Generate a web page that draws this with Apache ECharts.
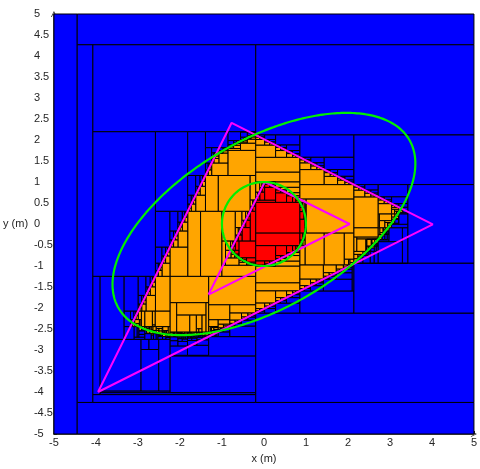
<!DOCTYPE html>
<html><head><meta charset="utf-8">
<script src="https://cdn.jsdelivr.net/npm/echarts@6/dist/echarts.min.js"></script>
<style>html,body{margin:0;padding:0;background:#fff}#c{width:480px;height:469px}</style>
</head><body><div id="c"></div>
<script>
// ---- data ----
const bigTriangle   = [[-3.95, -4.0], [-0.77, 2.41], [4.02, -0.01]];
const smallTriangle = [[-1.32, -1.68], [0.02, 1.0], [2.04, 0.0]];
const bigEllipse    = [0, 0, 4, 2, 30];   // cx, cy, semi-axis a, semi-axis b, angle (deg)
const smallEllipse  = [0, 0, 1, 1, 0];
const initialBox    = [-5, 5, -5, 5];     // xmin, xmax, ymin, ymax
const pavingEps     = 0.1;
const bisectRatio   = 0.45;
const xRange = [-5, 5], xStep = 1;
const yRange = [-5, 5], yStep = 0.5;
const xName = 'x (m)', yName = 'y (m)';
const colors = ['#0000ff', '#ff0000', '#ffa500', '#ffa500']; // out, in, maybe, undetermined

// ---- interval helpers ----
const INF = Infinity;
function iv(a, b) { return a <= b ? {lo: a, hi: b} : null; }
function add(A, B) { return {lo: A.lo + B.lo, hi: A.hi + B.hi}; }
function sub(A, B) { return {lo: A.lo - B.hi, hi: A.hi - B.lo}; }
function scale(A, k) { return k >= 0 ? {lo: k * A.lo, hi: k * A.hi} : {lo: k * A.hi, hi: k * A.lo}; }
function sqr(A) {
  if (A.lo >= 0) return {lo: A.lo * A.lo, hi: A.hi * A.hi};
  if (A.hi <= 0) return {lo: A.hi * A.hi, hi: A.lo * A.lo};
  return {lo: 0, hi: Math.max(A.lo * A.lo, A.hi * A.hi)};
}
function inter(A, B) { if (!A || !B) return null; return iv(Math.max(A.lo, B.lo), Math.min(A.hi, B.hi)); }
function hull(A, B) { if (!A) return B; if (!B) return A; return {lo: Math.min(A.lo, B.lo), hi: Math.max(A.hi, B.hi)}; }
function shift(A, d) { return {lo: A.lo + d, hi: A.hi + d}; }
function bwdSqr(Z, X) {
  Z = inter(Z, iv(0, INF)); if (!Z) return null;
  const sl = Math.sqrt(Z.lo), sh = Math.sqrt(Z.hi);
  return hull(inter(X, iv(sl, sh)), inter(X, iv(-sh, -sl)));
}
function norm(b) {
  if (!b || !b.x || !b.y) return null;
  if (b.x.hi - b.x.lo < 1e-9 || b.y.hi - b.y.lo < 1e-9) return null;
  return b;
}
function boxHull(a, b) { if (!a) return b; if (!b) return a; return {x: hull(a.x, b.x), y: hull(a.y, b.y)}; }

// half-plane a x + b y <= c
function cHalf(box, h) {
  const [a, b, c] = h;
  let x = box.x, y = box.y;
  if (a !== 0) { const r = c - scale(y, b).lo; x = inter(x, a > 0 ? iv(-INF, r / a) : iv(r / a, INF)); if (!x) return null; }
  if (b !== 0) { const r = c - scale(x, a).lo; y = inter(y, b > 0 ? iv(-INF, r / b) : iv(r / b, INF)); if (!y) return null; }
  if (scale(x, a).lo + scale(y, b).lo > c + 1e-12) return null;
  return {x, y};
}
function cEll(box, E, inside) {
  const [cx, cy, A, B, deg] = E;
  const th = deg * Math.PI / 180, c = Math.cos(th), s = Math.sin(th);
  let X = shift(box.x, -cx), Y = shift(box.y, -cy);
  let U = add(scale(X, c), scale(Y, s));
  let V = add(scale(X, -s), scale(Y, c));
  let U2 = scale(sqr(U), 1 / (A * A)), V2 = scale(sqr(V), 1 / (B * B));
  let T = inter(add(U2, V2), inside ? iv(-INF, 1) : iv(1, INF)); if (!T) return null;
  U2 = inter(U2, sub(T, V2)); if (!U2) return null;
  V2 = inter(V2, sub(T, U2)); if (!V2) return null;
  U = bwdSqr(scale(U2, A * A), U); if (!U) return null;
  V = bwdSqr(scale(V2, B * B), V); if (!V) return null;
  if (Math.abs(c) > 1e-12) { X = inter(X, scale(sub(U, scale(Y, s)), 1 / c)); if (!X) return null; }
  if (Math.abs(s) > 1e-12) { Y = inter(Y, scale(sub(U, scale(X, c)), 1 / s)); if (!Y) return null; }
  if (Math.abs(c) > 1e-12) { Y = inter(Y, scale(add(V, scale(X, s)), 1 / c)); if (!Y) return null; }
  if (Math.abs(s) > 1e-12) { X = inter(X, scale(sub(scale(Y, c), V), 1 / s)); if (!X) return null; }
  return {x: shift(X, cx), y: shift(Y, cy)};
}
function halfPlanes(P) {
  const out = [];
  for (let i = 0; i < 3; i++) {
    const Pi = P[i], Pj = P[(i + 1) % 3], Pk = P[(i + 2) % 3];
    const nx = Pj[1] - Pi[1], ny = -(Pj[0] - Pi[0]);
    const sgn = nx * (Pk[0] - Pi[0]) + ny * (Pk[1] - Pi[1]);
    const d = nx * Pi[0] + ny * Pi[1];
    out.push(sgn > 0 ? [-nx, -ny, -d] : [nx, ny, d]);
  }
  return out;
}
function makeSet(tri, ell) { return {hp: halfPlanes(tri), ell}; }
function cOut(S, box) {
  for (const h of S.hp) { box = norm(cHalf(box, h)); if (!box) return null; }
  return norm(cEll(box, S.ell, true));
}
function cIn(S, box) {
  let r = null;
  for (const h of S.hp) r = boxHull(r, norm(cHalf(box, [-h[0], -h[1], -h[2]])));
  r = boxHull(r, norm(cEll(box, S.ell, false)));
  return norm(r);
}

const Splus = makeSet(bigTriangle, bigEllipse);
const Sminus = makeSet(smallTriangle, smallEllipse);
const boxes = [];
function emit(b, code) { boxes.push([b.x.lo, b.y.lo, b.x.hi, b.y.hi, code]); }
function emitDiff(X, Y, code) {
  if (!Y) { emit(X, code); return; }
  const e = 1e-9;
  if (Y.x.lo - X.x.lo > e) emit({x: {lo: X.x.lo, hi: Y.x.lo}, y: X.y}, code);
  if (X.x.hi - Y.x.hi > e) emit({x: {lo: Y.x.hi, hi: X.x.hi}, y: X.y}, code);
  if (Y.y.lo - X.y.lo > e) emit({x: Y.x, y: {lo: X.y.lo, hi: Y.y.lo}}, code);
  if (X.y.hi - Y.y.hi > e) emit({x: Y.x, y: {lo: Y.y.hi, hi: X.y.hi}}, code);
}
function pave(X) {
  const Xo = cOut(Splus, X);
  emitDiff(X, Xo, 0); if (!Xo) return;
  const Xi = cIn(Sminus, Xo);
  emitDiff(Xo, Xi, 1); if (!Xi) return;
  const Xm = norm(boxHull(cIn(Splus, Xi), cOut(Sminus, Xi)));
  emitDiff(Xi, Xm, 2); if (!Xm) return;
  const wx = Xm.x.hi - Xm.x.lo, wy = Xm.y.hi - Xm.y.lo;
  if (Math.max(wx, wy) < pavingEps) { emit(Xm, 3); return; }
  if (wx >= wy) {
    const m = Xm.x.lo + bisectRatio * wx;
    pave({x: {lo: Xm.x.lo, hi: m}, y: Xm.y}); pave({x: {lo: m, hi: Xm.x.hi}, y: Xm.y});
  } else {
    const m = Xm.y.lo + bisectRatio * wy;
    pave({x: Xm.x, y: {lo: Xm.y.lo, hi: m}}); pave({x: Xm.x, y: {lo: m, hi: Xm.y.hi}});
  }
}
pave({x: {lo: initialBox[0], hi: initialBox[1]}, y: {lo: initialBox[2], hi: initialBox[3]}});

function closed(P) { return P.concat([P[0]]); }
function ellipsePts(E) {
  const [cx, cy, a, b, deg] = E, th = deg * Math.PI / 180, pts = [];
  for (let i = 0; i <= 360; i++) {
    const t = i * Math.PI / 180;
    const u = a * Math.cos(t), v = b * Math.sin(t);
    pts.push([cx + u * Math.cos(th) - v * Math.sin(th), cy + u * Math.sin(th) + v * Math.cos(th)]);
  }
  return pts;
}

const chart = echarts.init(document.getElementById('c'), null, {renderer: 'canvas'});
const font = "'Liberation Sans', Arial, sans-serif";
const arrow = 'path://M0,10 L5,0 L10,10 L8.6,10 L5,2.6 L1.4,10 Z';
chart.setOption({
  animation: false,
  backgroundColor: '#fff',
  grid: {left: 53, top: 14, right: 2, bottom: 31, containLabel: false},
  xAxis: {
    type: 'value', min: xRange[0], max: xRange[1], interval: xStep,
    name: xName, nameLocation: 'middle', nameGap: 19,
    nameTextStyle: {fontFamily: font, fontSize: 11, color: '#262626'},
    axisLine: {onZero: false, lineStyle: {color: '#262626', width: 1.5}, symbol: ['none', arrow], symbolSize: [10, 6]},
    axisTick: {inside: true, length: 3, lineStyle: {color: '#262626'}},
    axisLabel: {fontFamily: font, fontSize: 11, color: '#262626', margin: 3},
    splitLine: {show: false}
  },
  yAxis: {
    type: 'value', min: yRange[0], max: yRange[1], interval: yStep,
    name: yName, nameLocation: 'middle', nameGap: 21, nameRotate: 0,
    nameTextStyle: {fontFamily: font, fontSize: 11, color: '#262626'},
    axisLine: {onZero: false, lineStyle: {color: '#262626', width: 1.5}, symbol: ['none', arrow], symbolSize: [10, 6]},
    axisTick: {inside: true, length: 3, lineStyle: {color: '#262626'}},
    axisLabel: {fontFamily: font, fontSize: 11, color: '#262626', margin: 20, align: 'left'},
    splitLine: {show: false}
  },
  series: [
    {
      type: 'custom', data: boxes, progressive: 0, z: 1,
      renderItem: function (params, api) {
        const p0 = api.coord([api.value(0), api.value(3)]);
        const p1 = api.coord([api.value(2), api.value(1)]);
        return {type: 'rect', shape: {x: p0[0], y: p0[1], width: p1[0] - p0[0], height: p1[1] - p0[1]},
          style: {fill: colors[api.value(4)], stroke: '#000', lineWidth: 1}};
      }
    },
    {type: 'line', data: closed(bigTriangle), symbol: 'none', z: 3, lineStyle: {color: '#ff00ff', width: 2}},
    {type: 'line', data: closed(smallTriangle), symbol: 'none', z: 3, lineStyle: {color: '#ff00ff', width: 2}},
    {type: 'line', data: ellipsePts(bigEllipse), symbol: 'none', smooth: false, z: 4, lineStyle: {color: '#00f000', width: 2.2}},
    {type: 'line', data: ellipsePts(smallEllipse), symbol: 'none', smooth: false, z: 4, lineStyle: {color: '#00f000', width: 2.2}}
  ]
});
</script></body></html>
